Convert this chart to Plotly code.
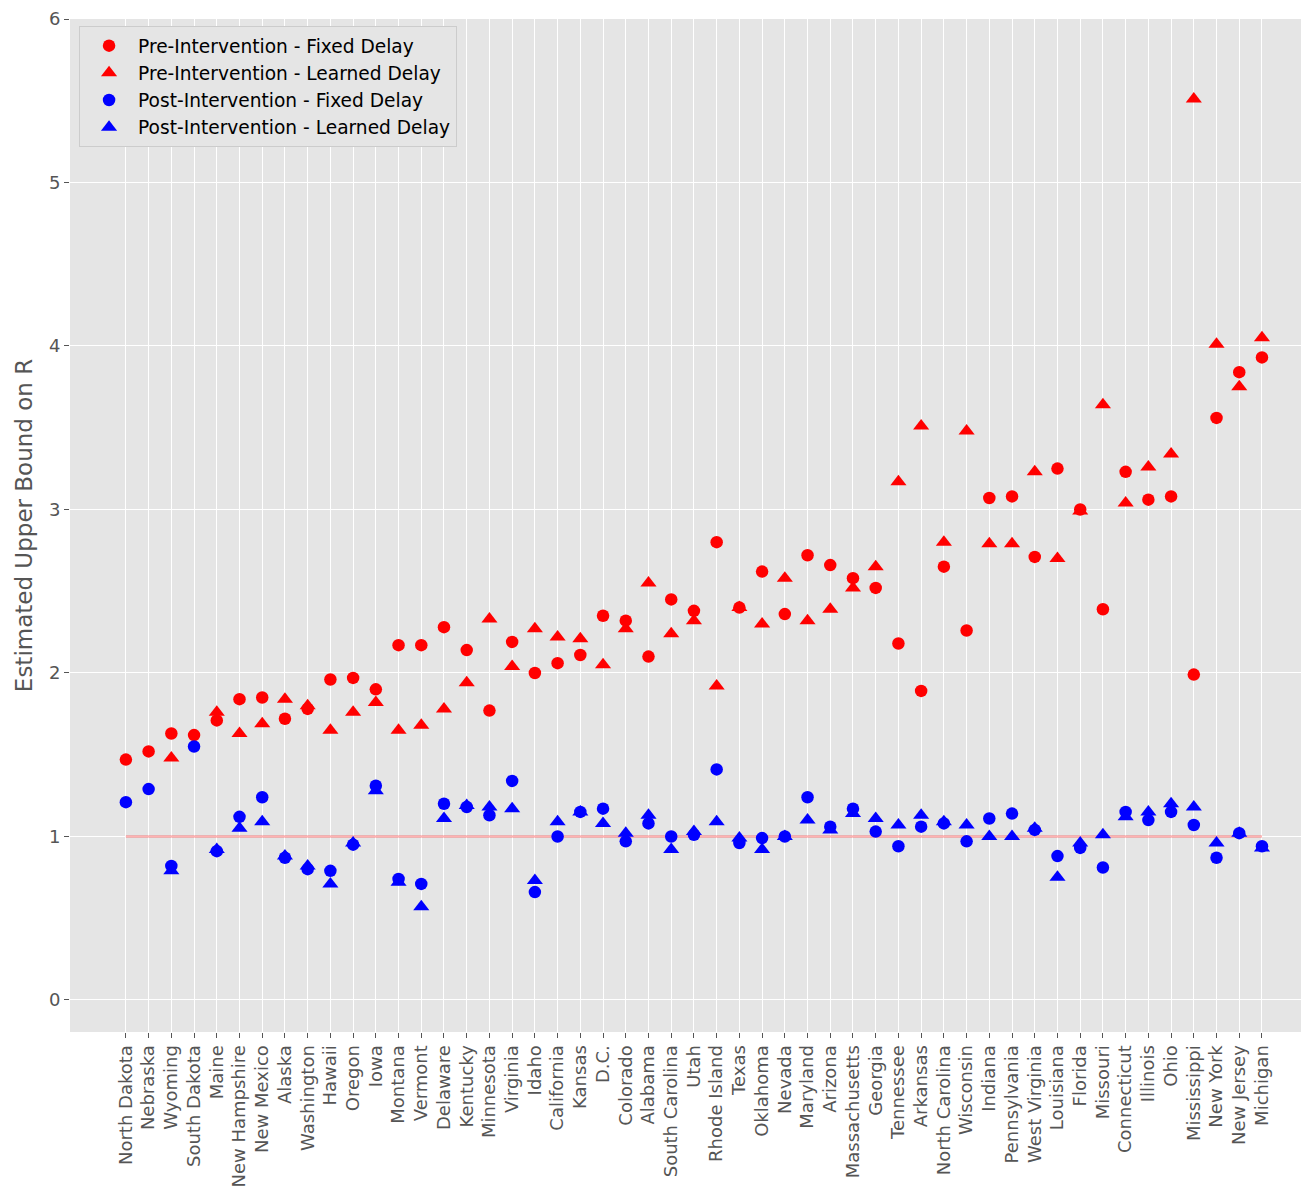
import plotly.graph_objects as go

states = ["North Dakota", "Nebraska", "Wyoming", "South Dakota", "Maine", "New Hampshire",
          "New Mexico", "Alaska", "Washington", "Hawaii", "Oregon", "Iowa", "Montana",
          "Vermont", "Delaware", "Kentucky", "Minnesota", "Virginia", "Idaho", "California",
          "Kansas", "D.C.", "Colorado", "Alabama", "South Carolina", "Utah", "Rhode Island",
          "Texas", "Oklahoma", "Nevada", "Maryland", "Arizona", "Massachusetts", "Georgia",
          "Tennessee", "Arkansas", "North Carolina", "Wisconsin", "Indiana", "Pennsylvania",
          "West Virginia", "Louisiana", "Florida", "Missouri", "Connecticut", "Illinois",
          "Ohio", "Mississippi", "New York", "New Jersey", "Michigan"]

pre_fixed = [1.47, 1.52, 1.63, 1.62, 1.71, 1.84, 1.85, 1.72, 1.78, 1.96, 1.97, 1.90, 2.17,
             2.17, 2.28, 2.14, 1.77, 2.19, 2.00, 2.06, 2.11, 2.35, 2.32, 2.10, 2.45, 2.38,
             2.80, 2.40, 2.62, 2.36, 2.72, 2.66, 2.58, 2.52, 2.18, 1.89, 2.65, 2.26, 3.07,
             3.08, 2.71, 3.25, 3.00, 2.39, 3.23, 3.06, 3.08, 1.99, 3.56, 3.84, 3.93]

pre_learned = [None, None, 1.48, None, 1.76, 1.63, 1.69, 1.84, 1.80, 1.65, 1.76, 1.82, 1.65,
               1.68, 1.78, 1.94, 2.33, 2.04, 2.27, 2.22, 2.21, 2.05, 2.27, 2.55, 2.24, 2.32,
               1.92, 2.40, 2.30, 2.58, 2.32, 2.39, 2.52, 2.65, 3.17, 3.51, 2.80, 3.48, 2.79,
               2.79, 3.23, 2.70, 2.99, 3.64, 3.04, 3.26, 3.34, 5.51, 4.01, 3.75, 4.05]

post_fixed = [1.21, 1.29, 0.82, 1.55, 0.91, 1.12, 1.24, 0.87, 0.80, 0.79, 0.95, 1.31, 0.74,
              0.71, 1.20, 1.18, 1.13, 1.34, 0.66, 1.00, 1.15, 1.17, 0.97, 1.08, 1.00, 1.01,
              1.41, 0.96, 0.99, 1.00, 1.24, 1.06, 1.17, 1.03, 0.94, 1.06, 1.08, 0.97, 1.11,
              1.14, 1.04, 0.88, 0.93, 0.81, 1.15, 1.10, 1.15, 1.07, 0.87, 1.02, 0.94]

post_learned = [None, None, 0.79, None, 0.92, 1.05, 1.09, 0.88, 0.82, 0.71, 0.96, 1.28, 0.72,
                0.57, 1.11, 1.19, 1.18, 1.17, 0.73, 1.09, 1.15, 1.08, 1.02, 1.13, 0.92, 1.03,
                1.09, 0.99, 0.92, 1.00, 1.10, 1.04, 1.14, 1.11, 1.07, 1.13, 1.09, 1.07, 1.00,
                1.00, 1.05, 0.75, 0.96, 1.01, 1.12, 1.15, 1.20, 1.18, 0.96, 1.02, 0.93]

reference_level = [1.0] * len(states)

FONT = "DejaVu Sans"
fig = go.Figure()

fig.add_trace(go.Scatter(x=states, y=reference_level, mode="lines",
                         line=dict(color="rgba(255,0,0,0.3)", width=2.5),
                         showlegend=False, hoverinfo="skip"))

series = [
    ("Pre-Intervention - Fixed Delay", pre_fixed, "#FF0000", "circle", 12.5),
    ("Pre-Intervention - Learned Delay", pre_learned, "#FF0000", "triangle-up", 14),
    ("Post-Intervention - Fixed Delay", post_fixed, "#0000FF", "circle", 12.5),
    ("Post-Intervention - Learned Delay", post_learned, "#0000FF", "triangle-up", 14),
]
for name, vals, col, sym, sz in series:
    fig.add_trace(go.Scatter(x=states, y=vals, mode="markers", name=name,
                             marker=dict(color=col, symbol=sym, size=sz, line=dict(width=0))))

# the page body has an 8px margin, so the figure is sized/placed to compensate
fig.update_layout(
    width=1301, height=1186,
    paper_bgcolor="white", plot_bgcolor="#E5E5E5",
    margin=dict(l=62, r=0, t=11, b=162),
    font=dict(family=FONT, size=18, color="#555555"),
    legend=dict(x=0.0073, y=0.993, xanchor="left", yanchor="top",
                bgcolor="#E5E5E5", bordercolor="#CCCCCC", borderwidth=1,
                itemwidth=48,
                font=dict(family=FONT, size=18.6, color="#000000")),
    showlegend=True,
)
fig.update_xaxes(type="category", range=[-2.46, 52.07], showgrid=True, gridcolor="white",
                 gridwidth=1.3, zeroline=False, ticks="outside", ticklen=5, tickwidth=1,
                 tickcolor="#555555", tickangle=-90, tickfont=dict(size=18, color="#555555"),
                 showline=False, automargin=False)
fig.update_yaxes(range=[-0.196, 6], dtick=1, tick0=0, showgrid=True, gridcolor="white",
                 gridwidth=1.3, zeroline=False, ticks="outside", ticklen=5, tickwidth=1,
                 tickcolor="#555555", tickfont=dict(size=18, color="#555555"),
                 title=dict(text="Estimated Upper Bound on R", font=dict(size=23, color="#555555"),
                            standoff=9),
                 showline=False, automargin=False)

fig.write_html("out.html")
